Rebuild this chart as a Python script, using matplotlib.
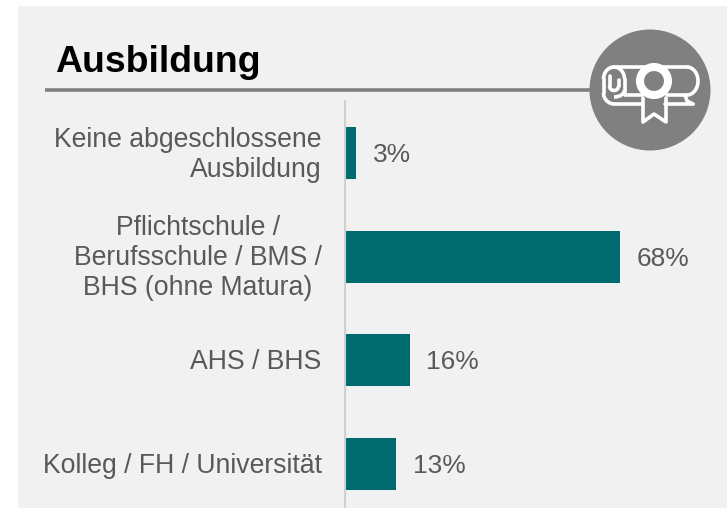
import matplotlib
matplotlib.use('Agg')
import matplotlib.pyplot as plt
from matplotlib.patches import Circle, Rectangle, Arc
from matplotlib.transforms import ScaledTranslation

plt.rcParams['font.family'] = ['Liberation Sans', 'DejaVu Sans']

categories = ['Keine abgeschlossene\nAusbildung',
              'Pflichtschule /\nBerufsschule / BMS /\nBHS (ohne Matura)',
              'AHS / BHS',
              'Kolleg / FH / Universität']
bar_values = [2.6, 68, 15.9, 12.5]
value_labels = ['3%', '68%', '16%', '13%']
title = 'Ausbildung'

W, H = 727, 508
TEAL = '#006b6f'
GREY_TXT = '#595959'
GREY = '#808080'
PANEL = '#f1f1f1'

fig = plt.figure(figsize=(W / 100, H / 100), dpi=100, facecolor='white')

# background layer in pixel coordinates (panel, title, rule)
bg = fig.add_axes([0, 0, 1, 1], zorder=0)
bg.set_xlim(0, W)
bg.set_ylim(H, 0)
bg.axis('off')
bg.add_patch(Rectangle((18, 6), W - 18, H - 6, fc=PANEL, ec='none'))
bg.text(55.5, 72.5, title, fontsize=26.9, fontweight='bold', color='black', ha='left', va='baseline')
bg.plot([45, 600], [90, 90], color=GREY, lw=2.6, solid_capstyle='butt')

# bars
ax = fig.add_axes([346 / W, 0, (W - 346) / W, (H - 101) / H], zorder=1)
ax.patch.set_alpha(0)
# set_position resets the ticks, so spines go first
for s in ['top', 'right', 'bottom']:
    ax.spines[s].set_visible(False)
ax.spines['left'].set_color('#d0d0d0')
ax.spines['left'].set_linewidth(1.5)
ax.spines['left'].set_position(('outward', 1))
y = list(range(len(categories)))
bars = ax.barh(y, bar_values, height=0.5, color=TEAL)
ax.set_xlim(0, (W - 346) / 4.03)
ax.set_ylim(3.423, -0.501)
ax.set_xticks([])
ax.tick_params(axis='y', length=0, pad=16.5)
ax.set_yticks(y)
ax.set_yticklabels(categories, fontsize=19.2, color=GREY_TXT, linespacing=1.2)
labs = ax.get_yticklabels()
labs[0].set_multialignment('right')
labs[1].set_multialignment('center')
# nudge the labels up a few pixels
for lab, dy in zip(labs, [3, 4, 1, 1]):
    lab.set_transform(lab.get_transform() + ScaledTranslation(0, dy / 100, fig.dpi_scale_trans))
for t in ax.bar_label(bars, labels=value_labels, padding=11.8, fontsize=19, color=GREY_TXT):
    t.xyann = (t.xyann[0], -1.5)

# icon on top, pixel coordinates again
ic = fig.add_axes([0, 0, 1, 1], zorder=2)
ic.set_xlim(0, W)
ic.set_ylim(H, 0)
ic.axis('off')
ic.patch.set_alpha(0)
ic.add_patch(Circle((650, 90), 60.5, fc=GREY, ec='none'))
lw = 2.6
w = dict(color='white', lw=lw, solid_capstyle='round', solid_joinstyle='round')
arc = dict(ec='white', lw=lw)
ic.plot([614, 688], [67, 67], **w)
ic.add_patch(Arc((687, 81), 22, 28, theta1=-90, theta2=90, **arc))
ic.plot([625, 642], [95, 95], **w)
ic.plot([667, 687], [95, 95], **w)
ic.plot([614, 642], [104, 104], **w)
ic.plot([665, 693], [104, 104], **w)
ic.plot([685, 687, 693], [95, 101, 104], **w)
# left scroll roll with its curl
ic.add_patch(Arc((614, 79), 21, 24, theta1=180, theta2=360, **arc))
ic.plot([624.5, 624.5], [79, 94], **w)
ic.plot([603.5, 603.5], [79, 93], **w)
ic.add_patch(Arc((614.5, 93), 22, 22, theta1=90, theta2=180, **arc))
ic.add_patch(Arc((614, 90), 21, 14, theta1=0, theta2=90, **arc))
ic.plot([609.5, 609.5], [76, 86], **w)
ic.add_patch(Arc((614, 86), 9, 9, theta1=0, theta2=180, **arc))
ic.plot([618.5, 618.5], [80, 86], **w)
ic.plot([643, 643, 654, 666, 666], [98, 122, 114, 122, 98], **w)
ic.add_patch(Circle((654, 81), 14, fc=GREY, ec='white', lw=5.8))

fig.savefig('out.png', dpi=100, facecolor='white')
